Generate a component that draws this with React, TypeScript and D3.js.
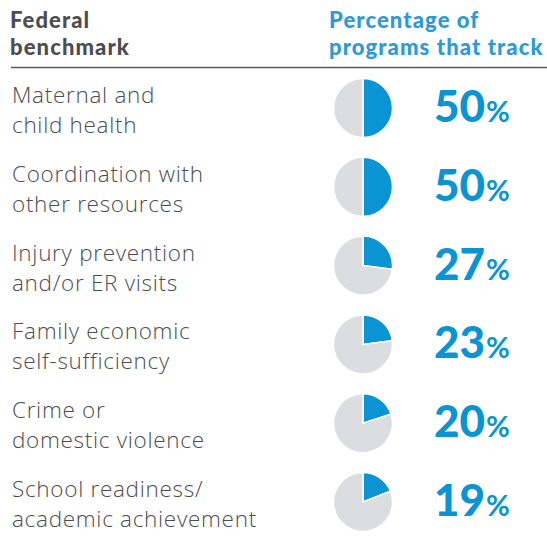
import { useEffect, useRef } from 'react';
import * as d3 from 'd3';

const labelLine1 = ['Maternal and', 'Coordination with', 'Injury prevention', 'Family economic', 'Crime or', 'School readiness/'];
const labelLine2 = ['child health', 'other resources', 'and/or ER visits', 'self-sufficiency', 'domestic violence', 'academic achievement'];
const pctValues = [50, 50, 27, 23, 20, 19];
const headLeft = ['Federal', 'benchmark'];
const headRight = ['Percentage of', 'programs that track'];

const BLUE = '#0a94d3';
const GRAY = '#dcdde0';
const TEXT = '#4d4d4f';

const BenchmarkChart = () => {
  const ref = useRef<SVGSVGElement | null>(null);

  useEffect(() => {
    const svg = d3.select(ref.current);
    svg.selectAll('*').remove();

    const font = '"Open Sans", Lato, sans-serif';

    // header
    const head = svg.append('g').attr('font-family', 'Lato, "Open Sans", sans-serif')
      .attr('font-weight', 900).attr('font-size', 22).attr('letter-spacing', 1.1);
    head.selectAll('text.hl').data(headLeft).enter().append('text')
      .attr('x', 10).attr('y', (_, i) => 28 + i * 27).attr('fill', TEXT).text(d => d);
    head.selectAll('text.hr').data(headRight).enter().append('text')
      .attr('x', 329).attr('y', (_, i) => 28 + i * 27).attr('fill', '#2a9ad8').text(d => d);

    svg.append('line')
      .attr('x1', 11).attr('x2', 547).attr('y1', 67.5).attr('y2', 67.5)
      .attr('stroke', '#58585a').attr('stroke-width', 1.5);

    const y = d3.scalePoint<number>()
      .domain(d3.range(pctValues.length))
      .range([108, 502]);

    const pie = d3.pie<number>().sort(null).value(d => d);
    const arc = d3.arc<d3.PieArcDatum<number>>().innerRadius(0).outerRadius(29.5);

    const rows = svg.selectAll('g.row')
      .data(pctValues)
      .enter().append('g')
      .attr('class', 'row')
      .attr('transform', (_, i) => `translate(0, ${y(i)})`);

    const lbl = rows.append('text')
      .attr('y', -5)
      .attr('font-family', font).attr('font-weight', 300).attr('font-size', 22.5)
      .attr('letter-spacing', 0.7).attr('fill', TEXT);
    lbl.append('tspan').attr('x', 12).text((_, i) => labelLine1[i]);
    lbl.append('tspan').attr('x', 12).attr('dy', 30).text((_, i) => labelLine2[i]);

    const pieG = rows.append('g').attr('transform', 'translate(363, 0)');
    pieG.selectAll('path')
      .data(d => pie([d, 100 - d]))
      .enter().append('path')
      .attr('d', arc)
      .attr('fill', (_, j) => (j === 0 ? BLUE : GRAY))
      .attr('stroke', '#fff')
      .attr('stroke-width', 1.5);

    const pct = rows.append('text')
      .attr('x', 434).attr('y', 14)
      .attr('font-family', 'Lato, "Open Sans", sans-serif').attr('font-weight', 900).attr('fill', BLUE);
    pct.append('tspan').attr('font-size', 44).text(d => String(d));
    pct.append('tspan').attr('font-size', 29).attr('font-weight', 700).attr('dx', 1).text('%');
  }, []);

  return <svg ref={ref} width={547} height={543} style={{ position: 'absolute', left: 0, top: 0 }} />;
};

export default function App() {
  return <BenchmarkChart />;
}
